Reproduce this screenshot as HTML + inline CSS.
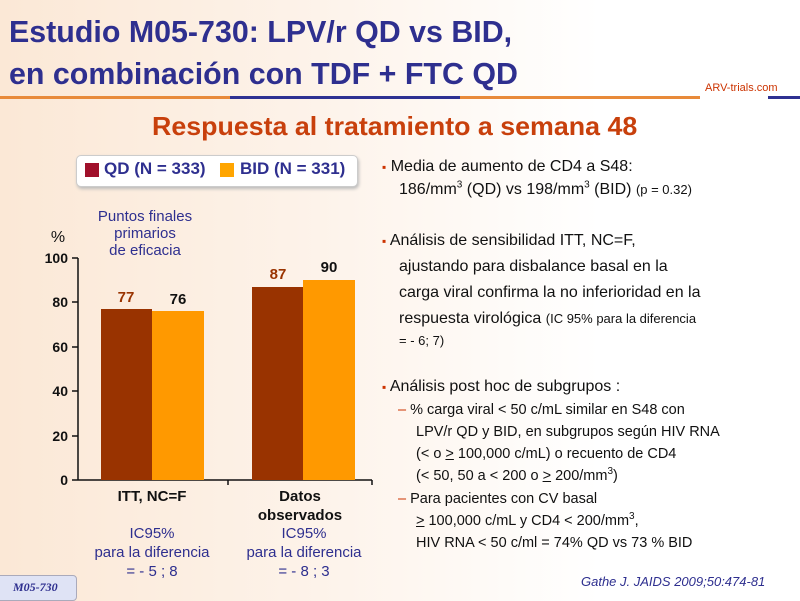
<!DOCTYPE html><html><head><meta charset="utf-8"><style>
body{margin:0;width:800px;height:600px;overflow:hidden;font-family:"Liberation Sans",sans-serif;background:linear-gradient(90deg,#fbe8d6 0%,#fdf3ea 40%,#fff 75%);position:relative}
.a{position:absolute;white-space:nowrap}
.t{color:#2e2f8f;font-weight:bold;font-size:31px;transform:scaleX(.98);transform-origin:left}
.r{font-size:16px;color:#111;line-height:21px}
.s{font-size:14.5px;color:#111;line-height:21px}
sup{font-size:10px;line-height:0}
.b{color:#cc3300;font-size:12px}
</style></head><body>
<div class="a t" style="left:9px;top:14px">Estudio M05-730: LPV/r QD vs BID,</div>
<div class="a t" style="left:9px;top:56px">en combinación con TDF + FTC QD</div>
<div class="a" style="left:0;top:96px;width:230px;height:3px;background:#e88a3a"></div>
<div class="a" style="left:230px;top:96px;width:230px;height:3px;background:#2e3192"></div>
<div class="a" style="left:460px;top:96px;width:240px;height:3px;background:#e88a3a"></div>
<div class="a" style="left:768px;top:96px;width:32px;height:3px;background:#2e3192"></div>
<div class="a" style="left:705px;top:82px;font-size:11px;color:#cc3300">ARV-trials.com</div>
<div class="a" style="left:152px;top:111px;font-size:26px;font-weight:bold;color:#c8400c;transform:scaleX(1.03);transform-origin:left">Respuesta al tratamiento a semana 48</div>
<div class="a" style="left:76px;top:155px;width:280px;height:30px;background:#fff;border:1px solid #ccc;border-radius:5px;box-shadow:1px 2px 3px #bbb"></div>
<div class="a" style="left:85px;top:163px;width:14px;height:14px;background:#a0102a"></div>
<div class="a" style="left:104px;top:159px;font-size:17px;font-weight:bold;color:#2e2f8f">QD (N = 333)</div>
<div class="a" style="left:220px;top:163px;width:14px;height:14px;background:#ffa500"></div>
<div class="a" style="left:240px;top:159px;font-size:17px;font-weight:bold;color:#2e2f8f">BID (N = 331)</div>
<svg class="a" style="left:0;top:0" width="400" height="600">
<g font-family="Liberation Sans" font-size="15" fill="#2e2f8f" text-anchor="middle">
<text x="145" y="221">Puntos finales</text><text x="145" y="238">primarios</text><text x="145" y="255">de eficacia</text>
<text x="58" y="242" font-size="16" fill="#111">%</text></g>
<g stroke="#111" stroke-width="1.5"><line x1="78" y1="258" x2="78" y2="480"/><line x1="72" y1="480" x2="372" y2="480"/>
<line x1="72" y1="258" x2="78" y2="258"/><line x1="72" y1="302" x2="78" y2="302"/><line x1="72" y1="347" x2="78" y2="347"/><line x1="72" y1="391" x2="78" y2="391"/><line x1="72" y1="436" x2="78" y2="436"/><line x1="228" y1="480" x2="228" y2="485"/><line x1="372" y1="480" x2="372" y2="485"/></g>
<g font-size="14" font-weight="bold" fill="#111" text-anchor="end"><text x="68" y="263">100</text><text x="68" y="307">80</text><text x="68" y="352">60</text><text x="68" y="396">40</text><text x="68" y="441">20</text><text x="68" y="485">0</text></g>
<rect x="101" y="309" width="51" height="171" fill="#993300"/><rect x="152" y="311" width="52" height="169" fill="#ff9900"/>
<rect x="252" y="287" width="51" height="193" fill="#993300"/><rect x="303" y="280" width="52" height="200" fill="#ff9900"/>
<g font-size="15" font-weight="bold" text-anchor="middle"><text x="126" y="302" fill="#993300">77</text><text x="178" y="304" fill="#111">76</text><text x="278" y="279" fill="#993300">87</text><text x="329" y="272" fill="#111">90</text>
<text x="152" y="501" fill="#111">ITT, NC=F</text><text x="300" y="501" fill="#111">Datos</text><text x="300" y="520" fill="#111">observados</text></g>
<g font-size="15" fill="#2e2f8f" text-anchor="middle"><text x="152" y="538">IC95%</text><text x="152" y="557">para la diferencia</text><text x="152" y="576">= - 5 ; 8</text>
<text x="304" y="538">IC95%</text><text x="304" y="557">para la diferencia</text><text x="304" y="576">= - 8 ; 3</text></g>
</svg>
<div class="a" style="left:-5px;top:575px;width:80px;height:24px;background:#dfe3f5;border:1px solid #aab;border-radius:4px"></div>
<div class="a" style="left:13px;top:580px;font-size:12px;font-style:italic;font-weight:bold;color:#2e2f8f;font-family:'Liberation Serif',serif">M05-730</div>
<div class="a r" style="left:382px;top:156px"><span class="b">▪</span> Media de aumento de CD4 a S48:</div>
<div class="a r" style="left:399px;top:179px">186/mm<sup>3</sup> (QD) vs 198/mm<sup>3</sup> (BID) <span style="font-size:13px">(p = 0.32)</span></div>
<div class="a r" style="left:382px;top:230px"><span class="b">▪</span> Análisis de sensibilidad ITT, NC=F,</div>
<div class="a r" style="left:399px;top:256px">ajustando para disbalance basal en la</div>
<div class="a r" style="left:399px;top:282px">carga viral confirma la no inferioridad en la</div>
<div class="a r" style="left:399px;top:308px">respuesta virológica <span style="font-size:13px">(IC 95% para la diferencia</span></div>
<div class="a r" style="left:399px;top:330px"><span style="font-size:13px">= - 6; 7)</span></div>
<div class="a r" style="left:382px;top:376px"><span class="b">▪</span> Análisis post hoc de subgrupos :</div>
<div class="a s" style="left:398px;top:400px"><span style="color:#cc3300">–</span> % carga viral &lt; 50 c/mL similar en S48 con</div>
<div class="a s" style="left:416px;top:422px">LPV/r QD y BID, en subgrupos según HIV RNA</div>
<div class="a s" style="left:416px;top:444px">(&lt; o <u>&gt;</u> 100,000 c/mL) o recuento de CD4</div>
<div class="a s" style="left:416px;top:466px">(&lt; 50, 50 a &lt; 200 o <u>&gt;</u> 200/mm<sup>3</sup>)</div>
<div class="a s" style="left:398px;top:489px"><span style="color:#cc3300">–</span> Para pacientes con CV basal</div>
<div class="a s" style="left:416px;top:511px"><u>&gt;</u> 100,000 c/mL y CD4 &lt; 200/mm<sup>3</sup>,</div>
<div class="a s" style="left:416px;top:533px">HIV RNA &lt; 50 c/ml = 74% QD vs 73 % BID</div>
<div class="a" style="left:581px;top:574px;font-size:13px;font-style:italic;color:#2e2f8f">Gathe J. JAIDS 2009;50:474-81</div>
</body></html>
